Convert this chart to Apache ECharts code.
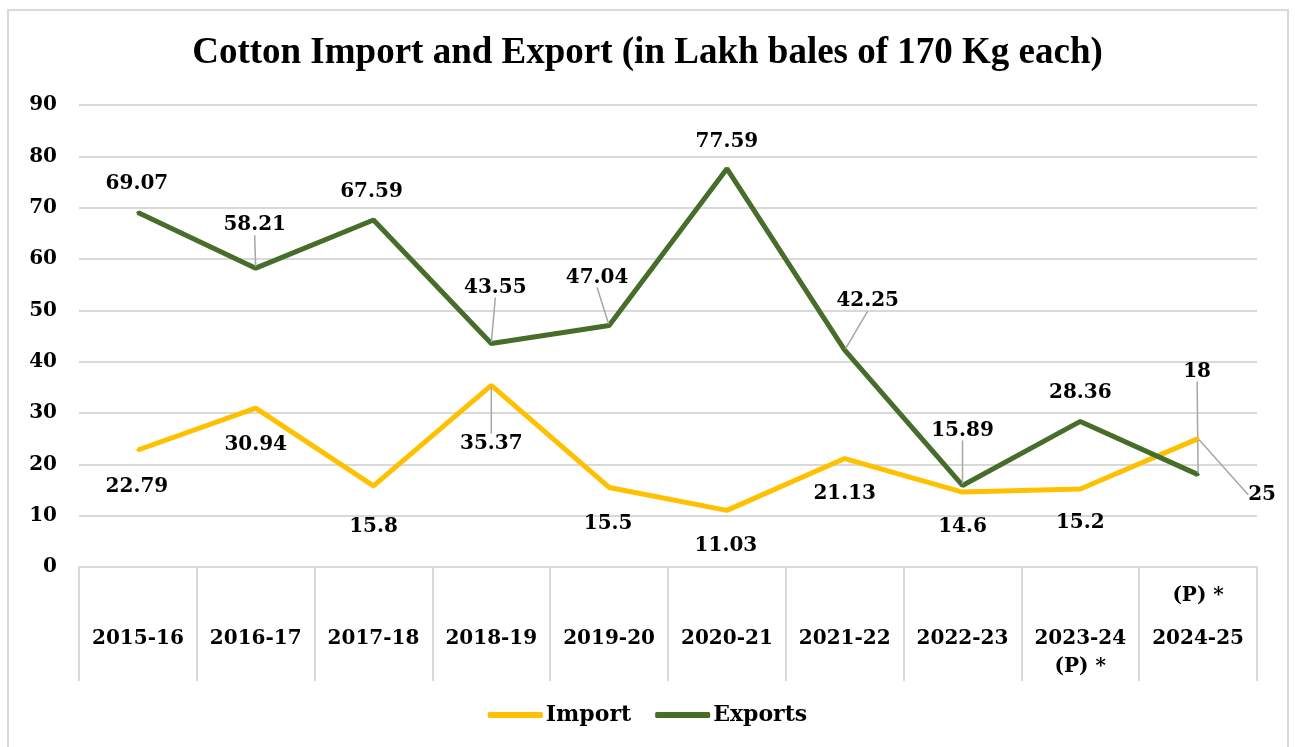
<!DOCTYPE html>
<html>
<head>
<meta charset="utf-8">
<script src="https://cdn.jsdelivr.net/npm/echarts@6/dist/echarts.min.js"></script>
<style>
  html, body { margin: 0; padding: 0; background: #fff; }
  #frame { position: absolute; left: 7px; top: 9px; width: 1278px; height: 745px; border: 2px solid #d9d9d9; }
  #main { position: absolute; left: 0; top: 0; width: 1295px; height: 747px; }
</style>
</head>
<body>
<div id="frame"></div>
<div id="main"></div>
<script>
  // data
  var categories = ['2015-16', '2016-17', '2017-18', '2018-19', '2019-20', '2020-21', '2021-22', '2022-23', '2023-24', '2024-25'];
  var notesBelow = ['', '', '', '', '', '', '', '', '(P) *', ''];
  var notesAbove = ['', '', '', '', '', '', '', '', '', '(P) *'];
  var importValues = [22.79, 30.94, 15.8, 35.37, 15.5, 11.03, 21.13, 14.6, 15.2, 25];
  var exportValues = [69.07, 58.21, 67.59, 43.55, 47.04, 77.59, 42.25, 15.89, 28.36, 18];
  var yTicks = [0, 10, 20, 30, 40, 50, 60, 70, 80, 90];

  // label placement (offset from the point) and leader lines
  var importLabelOffset = [[-1, 37], [0, 37], [0, 41], [0, 58], [-1, 36], [-1, 35], [0, 35], [0, 35], [0, 34], [64, 56]];
  var importLeader = [false, false, false, true, false, false, false, false, false, true];
  var exportLabelOffset = [[-1, -29], [-1, -43], [-2, -28], [4, -56], [-12, -48], [0, -27], [23, -49], [0, -55], [0, -29], [-1, -103]];
  var exportLeader = [false, true, false, true, true, false, true, true, false, true];

  var serifBold = "'DejaVu Serif', serif";

  function makeData(values, leaders) {
    return values.map(function (v, i) {
      return { value: v, labelLine: { show: leaders[i] } };
    });
  }

  function makeLayout(offsets) {
    return function (params) {
      var o = offsets[params.dataIndex];
      return { dx: o[0], dy: o[1] };
    };
  }

  var chart = echarts.init(document.getElementById('main'));

  var option = {
    animation: false,
    title: {
      text: 'Cotton Import and Export (in Lakh bales of 170 Kg each)',
      left: 'center',
      top: 30,
      textStyle: { fontFamily: "'Liberation Serif', serif", fontWeight: 'bold', fontSize: 37, color: '#000' }
    },
    legend: {
      bottom: 16,
      left: 'center',
      icon: 'roundRect',
      itemWidth: 55,
      itemHeight: 6,
      itemGap: 24,
      textStyle: { fontFamily: serifBold, fontWeight: 'bold', fontSize: 22, color: '#000', padding: [0, 0, 0, -2] },
      data: ['Import', 'Exports']
    },
    grid: { left: 79, right: 38, top: 105, bottom: 180 },
    xAxis: {
      type: 'category',
      data: categories,
      boundaryGap: true,
      axisLine: { lineStyle: { color: '#d9d9d9', width: 2 } },
      axisTick: { show: true, interval: 0, length: 114, lineStyle: { color: '#d9d9d9', width: 2 } },
      axisLabel: {
        interval: 0,
        margin: 0,
        verticalAlign: 'top',
        formatter: function (value, idx) {
          var top = notesAbove[idx] || ' ';
          var bot = notesBelow[idx] || ' ';
          return '{t|' + top + '}\n{m|' + value + '}\n{b|' + bot + '}';
        },
        rich: {
          t: { fontFamily: serifBold, fontWeight: 'bold', fontSize: 20, color: '#000', lineHeight: 58 },
          m: { fontFamily: serifBold, fontWeight: 'bold', fontSize: 20, color: '#000', lineHeight: 28 },
          b: { fontFamily: serifBold, fontWeight: 'bold', fontSize: 20, color: '#000', lineHeight: 28 }
        }
      }
    },
    yAxis: {
      type: 'value',
      min: yTicks[0],
      max: yTicks[yTicks.length - 1],
      interval: yTicks[1] - yTicks[0],
      axisLine: { show: false },
      axisTick: { show: false },
      splitLine: { lineStyle: { color: '#d9d9d9', width: 2 } },
      axisLabel: { margin: 22, fontFamily: serifBold, fontWeight: 'bold', fontSize: 20, color: '#000' }
    },
    series: [
      {
        name: 'Import',
        type: 'line',
        data: makeData(importValues, importLeader),
        symbol: 'circle',
        symbolSize: 3,
        itemStyle: { color: '#ffc000' },
        lineStyle: { color: '#ffc000', width: 5 },
        label: { show: true, position: 'inside', fontFamily: serifBold, fontWeight: 'bold', fontSize: 20, color: '#000' },
        labelLine: { lineStyle: { color: '#a6a6a6', width: 1.5 } },
        labelLayout: makeLayout(importLabelOffset)
      },
      {
        name: 'Exports',
        type: 'line',
        data: makeData(exportValues, exportLeader),
        symbol: 'circle',
        symbolSize: 3,
        itemStyle: { color: '#476d2b' },
        lineStyle: { color: '#476d2b', width: 5 },
        label: { show: true, position: 'inside', fontFamily: serifBold, fontWeight: 'bold', fontSize: 20, color: '#000' },
        labelLine: { lineStyle: { color: '#a6a6a6', width: 1.5 } },
        labelLayout: makeLayout(exportLabelOffset)
      }
    ]
  };

  chart.setOption(option);
</script>
</body>
</html>
